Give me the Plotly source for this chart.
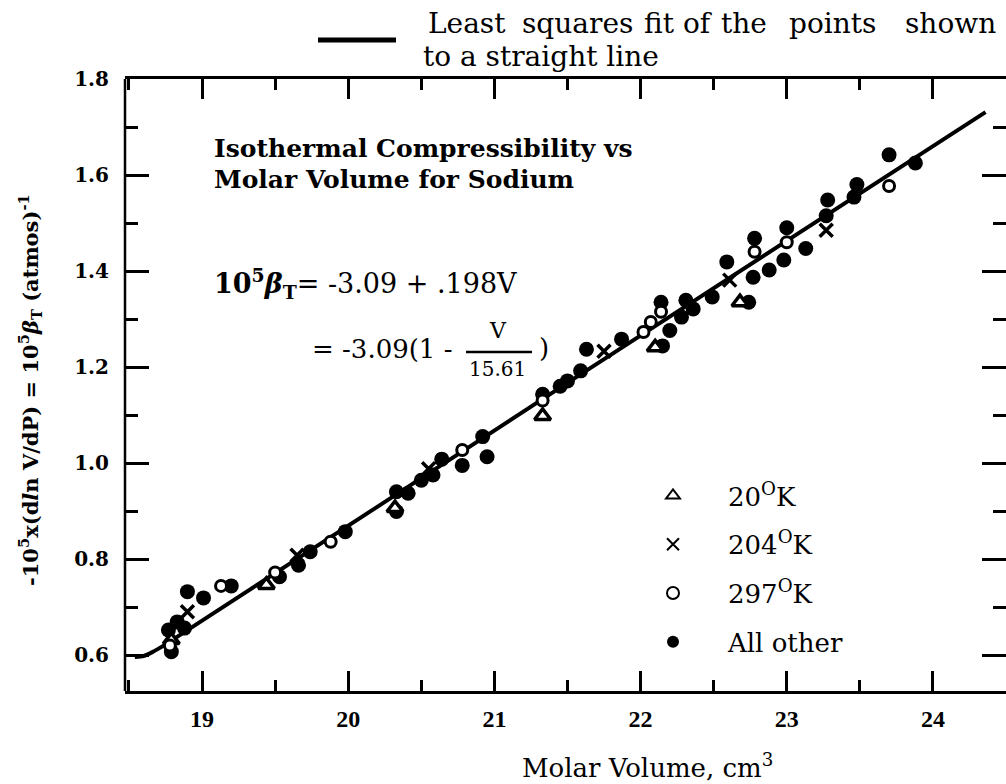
import plotly.graph_objects as go

# ---------------- data ----------------
tri_v = [18.79, 19.44, 20.32, 21.33, 22.10, 22.68]
tri_y = [0.631, 0.746, 0.906, 1.098, 1.241, 1.335]

x_v = [18.90, 19.65, 20.55, 21.75, 22.61, 23.27]
x_y = [0.690, 0.808, 0.988, 1.233, 1.381, 1.485]

open_v = [18.78, 19.13, 19.50, 19.88, 20.78, 21.33, 22.02, 22.07, 22.14, 22.78, 23.00, 23.70]
open_y = [0.620, 0.744, 0.772, 0.836, 1.027, 1.130, 1.273, 1.294, 1.315, 1.440, 1.460, 1.577]

fill_v = [18.77, 18.79, 18.83, 18.88, 18.90, 19.01, 19.20, 19.53, 19.66, 19.74, 19.98,
          20.33, 20.33, 20.41, 20.50, 20.58, 20.64, 20.78, 20.92, 20.95, 21.33, 21.45,
          21.50, 21.59, 21.63, 21.87, 22.14, 22.15, 22.20, 22.28, 22.31, 22.36, 22.49,
          22.59, 22.74, 22.77, 22.78, 22.88, 22.98, 23.00, 23.13, 23.27, 23.28, 23.46,
          23.48, 23.70, 23.88]
fill_y = [0.652, 0.607, 0.669, 0.656, 0.732, 0.719, 0.744, 0.763, 0.787, 0.815, 0.857,
          0.899, 0.940, 0.937, 0.964, 0.975, 1.008, 0.995, 1.055, 1.013, 1.143, 1.160,
          1.171, 1.192, 1.237, 1.258, 1.335, 1.244, 1.276, 1.304, 1.339, 1.321, 1.346,
          1.419, 1.335, 1.387, 1.468, 1.402, 1.423, 1.490, 1.447, 1.515, 1.548, 1.554,
          1.580, 1.642, 1.625]

fit_v = [18.54, 18.60, 18.66, 18.74, 21.50, 24.36]
fit_y = [0.596, 0.598, 0.606, 0.620, 1.167, 1.731]

x_ticks = [19, 20, 21, 22, 23, 24]
y_ticks = [0.6, 0.8, 1.0, 1.2, 1.4, 1.6, 1.8]
y_tick_text = ["0.6", "0.8", "1.0", "1.2", "1.4", "1.6", "1.8"]

legend_names = ["20<sup>O</sup>K", "204<sup>O</sup>K", "297<sup>O</sup>K", "All other"]

fit_words_1 = ["Least", "squares", "fit", "of", "the", "points", "shown"]
fit_line_2 = "to a straight line"
x_title = "Molar Volume, cm<sup>3</sup>"

# ---------------- layout geometry ----------------
W, H = 1006, 784
L, R, T, B = 125, 1006, 79, 691


def px(x):
    return (x - L) / (R - L)


def py(y):
    return (B - y) / (B - T)


SERIF = "DejaVu Serif"
TIMES = "Liberation Serif"

fig = go.Figure()

fig.add_trace(go.Scatter(x=fit_v, y=fit_y, mode="lines", showlegend=False,
                         line=dict(color="black", width=4, shape="spline", smoothing=0.6),
                         hoverinfo="skip"))

fig.add_trace(go.Scatter(x=fill_v, y=fill_y, mode="markers", name=legend_names[3],
                         legendgroup="d", legendrank=4,
                         marker=dict(symbol="circle", size=15, color="black",
                                     line=dict(width=0))))
fig.add_trace(go.Scatter(x=tri_v, y=tri_y, mode="markers", name=legend_names[0],
                         legendgroup="a", legendrank=1,
                         marker=dict(symbol="triangle-up", size=14, color="white",
                                     line=dict(width=3.5, color="black"))))
fig.add_trace(go.Scatter(x=x_v, y=x_y, mode="markers", name=legend_names[1],
                         legendgroup="b", legendrank=2,
                         marker=dict(symbol="x-thin", size=13, color="black",
                                     line=dict(width=3.5, color="black"))))
fig.add_trace(go.Scatter(x=open_v, y=open_y, mode="markers", name=legend_names[2],
                         legendgroup="c", legendrank=3,
                         marker=dict(symbol="circle", size=11, color="white",
                                     line=dict(width=3, color="black"))))

fig.update_xaxes(range=[18.473, 24.5], tickvals=x_ticks, ticklen=20, tickwidth=2.5,
                 showgrid=False, zeroline=False, showline=True, linecolor="black",
                 linewidth=2.5, ticks="inside", tickcolor="black", mirror="ticks",
                 tickfont=dict(family=TIMES, size=24, color="black", weight="bold"),
                 ticklabelstandoff=4,
                 minor=dict(dtick=0.5, tick0=19, ticklen=11, tickwidth=2.5,
                            ticks="inside", tickcolor="black"))
fig.update_yaxes(range=[0.525, 1.8], tickvals=y_ticks, ticktext=y_tick_text,
                 ticklen=24, tickwidth=2.5,
                 showgrid=False, zeroline=False, showline=False,
                 ticks="inside", tickcolor="black", mirror="ticks",
                 tickfont=dict(family=SERIF, size=20, color="black", weight="bold"),
                 ticklabelstandoff=15,
                 minor=dict(dtick=0.1, tick0=0.6, ticklen=13, tickwidth=2.5,
                            ticks="inside", tickcolor="black"))

ann = []


def text_at(t, x, y, size, anchor="left", weight="normal", angle=0):
    ann.append(dict(x=px(x), y=py(y), xref="paper", yref="paper", xanchor=anchor,
                    yanchor="middle", showarrow=False, text=t, textangle=angle,
                    font=dict(family=SERIF, size=size, color="black", weight=weight)))


# top legend for the fit line (word centres measured on the reference)
for w, c in zip(fit_words_1, [467, 577, 659, 698, 744, 832, 950]):
    text_at(w, c, 23, 28, anchor="center")
text_at(fit_line_2, 421, 57, 28)

# title inside the plot
text_at("Isothermal Compressibility vs", 212, 148, 25, weight="bold")
text_at("Molar Volume for Sodium", 212, 179, 25, weight="bold")

# equations
text_at("<b>10<sup>5</sup><i>β</i><sub>T</sub></b>= -3.09 + .198V", 212, 283, 27)
text_at("= -3.09(1 -", 310, 349, 26)
text_at("V", 498, 330, 22, anchor="center")
text_at("15.61", 497, 369, 20, anchor="center")
text_at(")", 537, 348, 26)

# x axis title
text_at(x_title, 647, 766, 26, anchor="center")

# y axis title
text_at("-10<sup>5</sup>x(d<i>l</i>n V/dP) = 10<sup>5</sup><i>β</i><sub>T</sub> (atmos)<sup>-1</sup>",
        30, 390, 21, anchor="center", weight="bold", angle=-90)

shapes = [
    # sample line for the "least squares" key
    dict(type="line", xref="paper", yref="paper", x0=px(318), x1=px(396),
         y0=py(40), y1=py(40), line=dict(color="black", width=5)),
    # fraction bar
    dict(type="line", xref="paper", yref="paper", x0=px(466), x1=px(532),
         y0=py(352), y1=py(352), line=dict(color="black", width=2.5)),
    # left frame line
    dict(type="line", xref="paper", yref="paper", x0=0, x1=0, y0=0, y1=1,
         line=dict(color="black", width=2.5)),
]

fig.update_layout(
    width=W, height=H, autosize=False,
    margin=dict(l=L, r=W - R, t=T, b=H - B, pad=0),
    paper_bgcolor="white", plot_bgcolor="white",
    annotations=ann, shapes=shapes,
    showlegend=True,
    legend=dict(x=px(618), y=py(472), xanchor="left", yanchor="top",
                bgcolor="rgba(0,0,0,0)", borderwidth=0, itemwidth=100,
                tracegroupgap=12, itemsizing="constant",
                font=dict(family=SERIF, size=26, color="black")),
)

fig.write_html("out.html", config={"displayModeBar": False},
               post_script="document.body.style.margin='0';document.body.style.overflow='hidden';")
